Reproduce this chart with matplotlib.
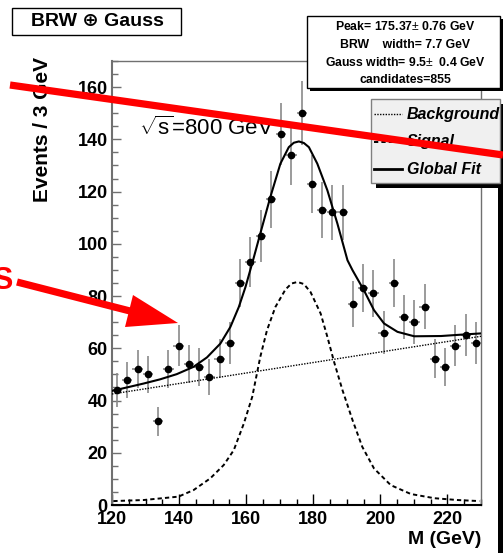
import matplotlib
matplotlib.use('Agg')
import matplotlib.pyplot as plt
from matplotlib.lines import Line2D
from matplotlib.patches import Rectangle, Polygon
from matplotlib.ticker import MultipleLocator

plt.rcParams['font.family'] = ['Liberation Sans', 'DejaVu Sans']
plt.rcParams['mathtext.fontset'] = 'custom'
plt.rcParams['mathtext.rm'] = 'Liberation Sans'

W, H = 503, 553

# bin centres (36 bins between 120 and 230 GeV)
mass = [121.53, 124.58, 127.64, 130.69, 133.75, 136.81, 139.86, 142.92, 145.97,
        149.03, 152.08, 155.14, 158.19, 161.25, 164.31, 167.36, 170.42, 173.47,
        176.53, 179.58, 182.64, 185.69, 188.75, 191.81, 194.86, 197.92, 200.97,
        204.03, 207.08, 210.14, 213.19, 216.25, 219.31, 222.36, 225.42, 228.47]
counts = [44, 48, 52, 50, 32, 52, 61, 54, 53, 49, 56, 62, 85, 93, 103, 117, 142, 134,
          150, 123, 113, 112, 112, 77, 83, 81, 66, 85, 72, 70, 76, 56, 53, 61, 65, 62]
errors = [6.6, 6.9, 7.2, 7.1, 5.7, 7.2, 7.8, 7.3, 7.3, 7.0, 7.5, 7.9, 9.2, 9.6, 10.1, 10.8,
          11.9, 11.6, 12.2, 11.1, 10.6, 10.6, 10.6, 8.8, 9.1, 9.0, 8.1, 9.2, 8.5, 8.4,
          8.7, 7.5, 7.3, 7.8, 8.1, 7.9]
half_bin = 1.53

# fitted curves
bg_m = [120, 230]
bg_v = [42.5, 64.6]

sig_m = [120.4, 129.4, 139.8, 144.3, 149.3, 153.3, 156.3, 159.3, 161.8, 164.2, 166.2,
         168.7, 171.7, 173.5, 175.3, 177.2, 179.2, 182.2, 184.2, 186.2, 188.7, 191.7,
         194.6, 198.1, 203.1, 209.1, 216.1, 223.0, 229.5]
sig_v = [1.5, 1.9, 3.2, 5.7, 10.2, 15.3, 21.0, 31.2, 41.4, 56.7, 66.9, 75.8, 82.5, 84.8,
         85.4, 84.6, 81.5, 73.3, 64.4, 54.8, 44.0, 32.5, 22.3, 14.0, 7.6, 4.2, 2.6, 1.9, 1.5]

fit_m = [120, 124.4, 129.4, 134.3, 139.3, 144.3, 148.3, 152.3, 155.3, 157.8, 159.8, 162.0,
         164.2, 167.2, 170.2, 172.7, 174.2, 175.7, 177.2, 178.7, 181.2, 184.2, 187.2,
         190.2, 191.7, 195.1, 198.1, 201.1, 205.1, 210.1, 218.1, 225.0, 230.0]
fit_v = [43.7, 45.0, 46.5, 48.1, 50.1, 52.9, 56.5, 61.8, 68.2, 75.8, 83.5, 93.5, 103.9,
         117.9, 130.7, 137.0, 138.7, 139.2, 138.6, 137.0, 130.7, 120.5, 107.7, 93.7, 89.9,
         82.2, 74.6, 69.5, 66.3, 64.6, 64.7, 65.3, 65.7]

stats_lines = ['Peak= 175.37$\\pm$ 0.76 GeV', 'BRW    width= 7.7 GeV',
               'Gauss width= 9.5$\\pm$  0.4 GeV', 'candidates=855']
legend_labels = ['Background', 'Signal', 'Global Fit']


def fx(px):
    return px / W


def fy(py):
    return 1 - py / H


fig = plt.figure(figsize=(W / 100, H / 100), dpi=100)
ax = fig.add_axes([fx(112), fy(505), (481 - 112) / W, (505 - 61) / H])

ax.errorbar(mass, counts, yerr=errors, xerr=half_bin, fmt='none', ecolor='#8a8a8a',
            elinewidth=1.2, capsize=0, zorder=2)
ax.plot(mass, counts, 'o', color='black', ms=4.5, zorder=4)
ax.plot(bg_m, bg_v, color='black', lw=1.0, ls=(0, (1, 1)), zorder=3)
ax.plot(sig_m, sig_v, color='black', lw=1.4, ls=(0, (2.2, 1.6)), zorder=3)
ax.plot(fit_m, fit_v, color='black', lw=1.5, zorder=3)

ax.set_xlim(120, 230)
ax.set_ylim(0, 170)
ax.xaxis.set_major_locator(MultipleLocator(20))
ax.xaxis.set_minor_locator(MultipleLocator(5))
ax.yaxis.set_major_locator(MultipleLocator(20))
ax.yaxis.set_minor_locator(MultipleLocator(5))
ax.tick_params(axis='x', which='both', direction='in', top=False, colors='black',
               labelsize=13, pad=4)
ax.tick_params(axis='x', which='major', length=8, width=1.0)
ax.tick_params(axis='x', which='minor', length=4, width=1.0)
ax.tick_params(axis='y', which='both', direction='in', right=False, color='#707070',
               labelcolor='black', labelsize=13, pad=3)
ax.tick_params(axis='y', which='major', length=6.5, width=1.0)
ax.tick_params(axis='y', which='minor', length=4, width=1.0)
for lab in ax.get_xticklabels() + ax.get_yticklabels():
    lab.set_fontweight('bold')
ax.spines['bottom'].set_linewidth(1.5)
ax.spines['left'].set_color('#707070')
ax.spines['left'].set_linewidth(1.5)
for s in ['top', 'right']:
    ax.spines[s].set_color('#707070')
    ax.spines[s].set_linewidth(1.0)

fig.text(fx(43), fy(130), 'Events / 3 GeV', rotation=90, ha='center', va='center',
         fontsize=15, fontweight='bold')
fig.text(fx(481), fy(540), 'M (GeV)', ha='right', va='center', fontsize=14,
         fontweight='bold')
fig.text(fx(139), fy(128), r'$\sqrt{\mathrm{s}}$=800 GeV', ha='left', va='center',
         fontsize=16)

# title box
fig.add_artist(Rectangle((fx(12), fy(35)), (181 - 12) / W, 27 / H, transform=fig.transFigure,
                         facecolor='white', edgecolor='black', lw=1.0, zorder=5))
fig.text(fx(97), fy(22), 'BRW \u2295 Gauss', ha='center', va='center', fontsize=14,
         fontweight='bold', zorder=6)

# stats box with shadow
fig.add_artist(Rectangle((fx(310), fy(91)), (503 - 310) / W, (91 - 19) / H,
                         transform=fig.transFigure, facecolor='black', edgecolor='none',
                         zorder=5))
fig.add_artist(Rectangle((fx(307), fy(88)), (500 - 307) / W, (88 - 16) / H,
                         transform=fig.transFigure, facecolor='white', edgecolor='black',
                         lw=1.0, zorder=5))
for i, line in enumerate(stats_lines):
    fig.text(fx(405), fy(27 + i * 17.7), line, ha='center', va='center', fontsize=8.8,
             fontweight='bold', zorder=6)

# legend box with shadow
fig.add_artist(Rectangle((fx(376), fy(188)), (503 - 376) / W, (188 - 104) / H,
                         transform=fig.transFigure, facecolor='black', edgecolor='none',
                         zorder=5))
fig.add_artist(Rectangle((fx(371), fy(183)), (500 - 371) / W, (183 - 99) / H,
                         transform=fig.transFigure, facecolor='#f0f0f0', edgecolor='#808080',
                         lw=1.0, zorder=5))
leg_styles = [dict(lw=1.0, ls=(0, (1, 1))), dict(lw=1.4, ls=(0, (2.2, 1.6))), dict(lw=2.0, ls='-')]
for i, (lab, st) in enumerate(zip(legend_labels, leg_styles)):
    y = 114 + i * 27.5
    fig.add_artist(Line2D([fx(374), fx(402)], [fy(y), fy(y)], transform=fig.transFigure,
                          color='black', zorder=6, **st))
    fig.text(fx(407), fy(y), lab, ha='left', va='center', fontsize=11.5,
             fontweight='bold', fontstyle='italic', zorder=6)

# black strip at the right edge
fig.add_artist(Rectangle((fx(498), 0), 5 / W, fy(188), transform=fig.transFigure,
                         facecolor='black', edgecolor='none', zorder=5))

# red annotations
red = '#ff0000'
fig.add_artist(Line2D([fx(10), fx(503)], [fy(85), fy(155)], transform=fig.transFigure,
                      color=red, lw=5.2, solid_capstyle='butt', zorder=10))
fig.add_artist(Line2D([fx(17), fx(130)], [fy(282), fy(311)], transform=fig.transFigure,
                      color=red, lw=5.2, solid_capstyle='butt', zorder=10))
fig.add_artist(Polygon([(fx(178), fy(323)), (fx(125), fy(327)), (fx(133), fy(295))],
                       closed=True, transform=fig.transFigure, facecolor=red,
                       edgecolor='none', zorder=10))
fig.text(fx(-8), fy(281), 'S', ha='left', va='center', fontsize=22, fontweight='bold',
         color=red, zorder=10)

fig.savefig('out.png', dpi=100)
